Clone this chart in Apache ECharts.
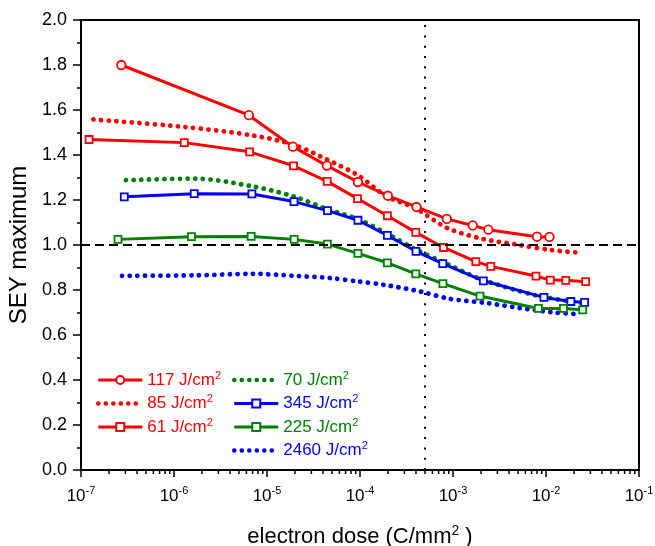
<!DOCTYPE html>
<html><head><meta charset="utf-8">
<script src="https://cdn.jsdelivr.net/npm/echarts@6/dist/echarts.min.js"></script>
<style>html,body{margin:0;padding:0;background:#fff}#c{width:655px;height:546px}</style>
</head><body><div id="c"></div>
<script>
// ---- data ----
const x117 = [2.71e-7, 6.38e-6, 1.9e-5, 4.4e-5, 9.5e-5, 1.99e-4, 4.05e-4, 8.57e-4, 1.63e-3, 2.4e-3, 8.0e-3, 1.09e-2];
const y117 = [1.80, 1.577, 1.437, 1.353, 1.280, 1.219, 1.169, 1.116, 1.087, 1.068, 1.037, 1.036];

const x85 = [1.36e-7, 1.27e-6, 7.2e-6, 1.93e-5, 4.4e-5, 9.5e-5, 1.94e-4, 3.9e-4, 8.6e-4, 2.1e-3, 5.2e-3, 1.1e-2, 2.3e-2];
const y85 = [1.558, 1.525, 1.486, 1.446, 1.380, 1.310, 1.216, 1.165, 1.076, 1.027, 1.000, 0.978, 0.966];

const x61 = [1.22e-7, 1.29e-6, 6.5e-6, 1.93e-5, 4.44e-5, 9.4e-5, 1.97e-4, 3.98e-4, 7.9e-4, 1.76e-3, 2.55e-3, 7.8e-3, 1.11e-2, 1.63e-2, 2.67e-2];
const y61 = [1.469, 1.455, 1.414, 1.352, 1.283, 1.206, 1.130, 1.056, 0.989, 0.926, 0.905, 0.862, 0.844, 0.843, 0.837];

const x70 = [3.04e-7, 1.69e-6, 6.9e-6, 1.93e-5, 4.4e-5, 9.5e-5, 2.0e-4, 4.0e-4, 8.0e-4, 2.0e-3, 8.0e-3, 2.5e-2];
const y70 = [1.288, 1.295, 1.261, 1.216, 1.160, 1.115, 1.048, 0.980, 0.922, 0.848, 0.775, 0.742];

const x345 = [2.92e-7, 1.65e-6, 6.88e-6, 1.95e-5, 4.47e-5, 9.5e-5, 1.97e-4, 4.0e-4, 7.76e-4, 2.12e-3, 9.5e-3, 1.85e-2, 2.6e-2];
const y345 = [1.214, 1.228, 1.227, 1.193, 1.153, 1.110, 1.043, 0.972, 0.917, 0.841, 0.767, 0.749, 0.745];

const x225 = [2.5e-7, 1.54e-6, 6.76e-6, 1.96e-5, 4.47e-5, 9.5e-5, 1.97e-4, 3.98e-4, 7.8e-4, 1.95e-3, 8.27e-3, 1.54e-2, 2.48e-2];
const y225 = [1.025, 1.037, 1.038, 1.025, 1.004, 0.963, 0.921, 0.872, 0.828, 0.773, 0.718, 0.718, 0.712];

const x2460 = [2.76e-7, 1.62e-6, 7.1e-6, 1.93e-5, 4.8e-5, 9.5e-5, 1.8e-4, 4.4e-4, 9.2e-4, 2.3e-3, 5.2e-3, 1.2e-2, 2.2e-2];
const y2460 = [0.863, 0.865, 0.872, 0.863, 0.853, 0.838, 0.823, 0.794, 0.761, 0.742, 0.720, 0.700, 0.693];

const seriesNames = ['117 J/cm²', '85 J/cm²', '61 J/cm²', '70 J/cm²', '345 J/cm²', '225 J/cm²', '2460 J/cm²'];
const legendCol1 = ['117 J/cm²', '85 J/cm²', '61 J/cm²'];
const legendCol2 = ['70 J/cm²', '345 J/cm²', '225 J/cm²', '2460 J/cm²'];
const dottedNames = ['85 J/cm²', '70 J/cm²', '2460 J/cm²'];
const thresholdY = 1.0;
const markerDose = 5e-4;
const xMin = 1e-7, xMax = 1e-1;
const yMin = 0, yMax = 2.0, yStep = 0.2;
const xDecades = [1e-7, 1e-6, 1e-5, 1e-4, 1e-3, 1e-2];
const minorMultipliers = [2, 3, 4, 5, 6, 7, 8, 9];

// ---- styling ----
const RED = '#ff0000', GREEN = '#008000', BLUE = '#0000ff';
const colors = {'117 J/cm²': RED, '85 J/cm²': RED, '61 J/cm²': RED, '70 J/cm²': GREEN, '345 J/cm²': BLUE, '225 J/cm²': GREEN, '2460 J/cm²': BLUE};
const FONT = 'Liberation Sans, Arial, sans-serif';
const zip = (xs, ys) => xs.map((x, i) => [x, ys[i]]);
const DOT = [0.1, 7.6];

function solidSeries(name, xs, ys, symbol, size) {
  return {
    name, type: 'line', data: zip(xs, ys), color: colors[name],
    symbol, symbolSize: size, showSymbol: true,
    itemStyle: {color: '#fff', borderColor: colors[name], borderWidth: 1.8},
    lineStyle: {color: colors[name], width: 3},
    z: 3
  };
}
function dottedSeries(name, xs, ys) {
  return {
    name, type: 'line', data: zip(xs, ys), color: colors[name], symbol: 'none', smooth: 0.3,
    lineStyle: {color: colors[name], width: 4.8, type: DOT, cap: 'round'},
    itemStyle: {color: colors[name]},
    z: 2
  };
}

const minorTicks = [];
xDecades.forEach(d => minorMultipliers.forEach(m => minorTicks.push([m * d, 0])));

const s117 = solidSeries('117 J/cm²', x117, y117, 'circle', 8.5);
s117.markLine = {
  silent: true, symbol: ['none', 'none'], label: {show: false}, animation: false,
  data: [
    {yAxis: thresholdY, lineStyle: {color: '#000', width: 2, type: [9, 5]}}
  ]
};

function legendFmt(name) {
  const parts = name.split('²');
  return '{t|' + parts[0] + '}{s|2}';
}
function legendData(list) {
  return list.map(n => {
    const dotted = dottedNames.includes(n);
    const item = {name: n, textStyle: {color: colors[n]}};
    if (dotted) {
      item.itemStyle = {opacity: 0};
      item.lineStyle = {width: 4.5, type: [0.1, 7.4], cap: 'round', color: colors[n]};
    } else {
      item.lineStyle = {width: 3, color: colors[n]};
    }
    return item;
  });
}
const legendText = {
  fontFamily: FONT, fontSize: 17,
  rich: {t: {fontSize: 17, fontFamily: FONT, lineHeight: 20}, s: {fontSize: 11, fontFamily: FONT, verticalAlign: 'top', lineHeight: 20, padding: [0, 0, 8, 0]}}
};

const chart = echarts.init(document.getElementById('c'), null, {renderer: 'canvas'});
chart.setOption({
  animation: false,
  backgroundColor: '#fff',
  grid: {left: 81, right: 16, top: 20, bottom: 76, show: true, borderColor: '#000', borderWidth: 2, backgroundColor: 'transparent',
         containLabel: false, outerBoundsMode: 'none'},
  legend: [
    {data: legendData(legendCol1), orient: 'vertical', left: 96, top: 370, itemWidth: 44, itemHeight: 10, itemGap: 4.5,
     formatter: legendFmt, textStyle: legendText, selectedMode: false, padding: 0},
    {data: legendData(legendCol2), orient: 'vertical', left: 232, top: 370, itemWidth: 44, itemHeight: 10, itemGap: 4.5,
     formatter: legendFmt, textStyle: legendText, selectedMode: false, padding: 0}
  ],
  xAxis: {
    type: 'log', logBase: 10, min: xMin, max: xMax,
    axisLine: {show: true, lineStyle: {color: '#000', width: 2}},
    axisTick: {show: true, length: 7, lineStyle: {color: '#000', width: 1.5}},
    splitLine: {show: false},
    axisLabel: {
      margin: 15, color: '#000',
      formatter: v => '{b|10}{s|' + Math.round(Math.log10(v)) + '}',
      rich: {b: {fontSize: 17, fontFamily: FONT, color: '#000', lineHeight: 22},
             s: {fontSize: 11, fontFamily: FONT, color: '#000', verticalAlign: 'top', lineHeight: 22, padding: [0, 0, 9, 0]}}
    },
    name: '{n|electron dose (C/mm}{s|2}{n| )}', nameLocation: 'middle', nameGap: 54,
    nameTextStyle: {rich: {n: {fontSize: 22, fontFamily: FONT, color: '#000', lineHeight: 26},
                           s: {fontSize: 14, fontFamily: FONT, color: '#000', verticalAlign: 'top', lineHeight: 26, padding: [0, 0, 10, 0]}}}
  },
  yAxis: {
    type: 'value', min: yMin, max: yMax, interval: yStep,
    axisLine: {show: true, lineStyle: {color: '#000', width: 2}},
    axisTick: {show: true, length: 8, lineStyle: {color: '#000', width: 1.5}},
    minorTick: {show: true, splitNumber: 2, length: 4, lineStyle: {color: '#000', width: 1.5}},
    splitLine: {show: false},
    axisLabel: {margin: 14, fontSize: 18, fontFamily: FONT, color: '#000', formatter: v => v.toFixed(1)},
    name: 'SEY maximum', nameLocation: 'middle', nameGap: 47,
    nameTextStyle: {fontSize: 24, fontFamily: FONT, color: '#000'}
  },
  series: [
    s117,
    dottedSeries('85 J/cm²', x85, y85),
    solidSeries('61 J/cm²', x61, y61, 'rect', 7),
    dottedSeries('70 J/cm²', x70, y70),
    solidSeries('345 J/cm²', x345, y345, 'rect', 7),
    solidSeries('225 J/cm²', x225, y225, 'rect', 7),
    dottedSeries('2460 J/cm²', x2460, y2460),
    {
      type: 'line', silent: true, symbol: 'none', z: 1,
      data: [[markerDose, yMin], [markerDose, yMax]],
      lineStyle: {color: '#000', width: 2, type: [2, 8.3]}
    },
    {
      type: 'custom', silent: true, clip: false, data: minorTicks, z: 10,
      renderItem: (params, api) => {
        const p = api.coord([api.value(0), yMin]);
        return {type: 'line', shape: {x1: p[0], y1: p[1], x2: p[0], y2: p[1] + 4}, style: {stroke: '#000', lineWidth: 1.5}};
      }
    }
  ]
});
</script>
</body></html>
